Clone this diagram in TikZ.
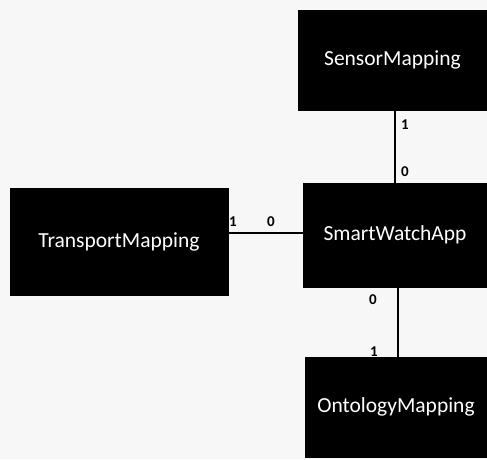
\documentclass[tikz,border=0pt]{standalone}
\usepackage{fontspec}
\setmainfont{Carlito}
\begin{document}
\begin{tikzpicture}[x=1pt,y=-1pt,
  classbox/.style={draw=black,fill=black,text=white,inner sep=0pt,
    font=\fontsize{21.5}{25}\selectfont},
  link/.style={draw=black,line width=1.3pt},
  mult/.style={inner sep=0pt,font=\fontsize{15}{17}\selectfont\bfseries}]
  % page area
  \fill[gray!6] (0,0) rectangle (487,459);
  \useasboundingbox (0,0) rectangle (487,459);

  % class boxes
  \node[classbox,minimum width=189pt,minimum height=100pt] (sensor) at (392.5,60) {SensorMapping};
  \node[classbox,minimum width=184pt,minimum height=104pt] (app) at (395,235) {SmartWatchApp};
  \node[classbox,minimum width=218pt,minimum height=107pt] (trans) at (119,241.5) {TransportMapping};
  \node[classbox,minimum width=182pt,minimum height=100pt] (onto) at (396,407) {OntologyMapping};

  % associations
  \draw[link] (app.north) -- (app.north |- sensor.south);
  \draw[link] ([yshift=2pt]app.west) -- ([yshift=2pt]app.west -| trans.east);
  \draw[link] ([xshift=3pt]app.south) -- ([xshift=3pt]app.south |- onto.north);

  % multiplicities
  \node[mult] (m1) at (405,125) {1};
  \node[mult] (m2) at (405,172) {0};
  \node[mult] (m3) at (233,222) {1};
  \node[mult] (m4) at (271,222) {0};
  \node[mult] (m5) at (373,300) {0};
  \node[mult] (m6) at (374,352) {1};
\end{tikzpicture}
\end{document}
